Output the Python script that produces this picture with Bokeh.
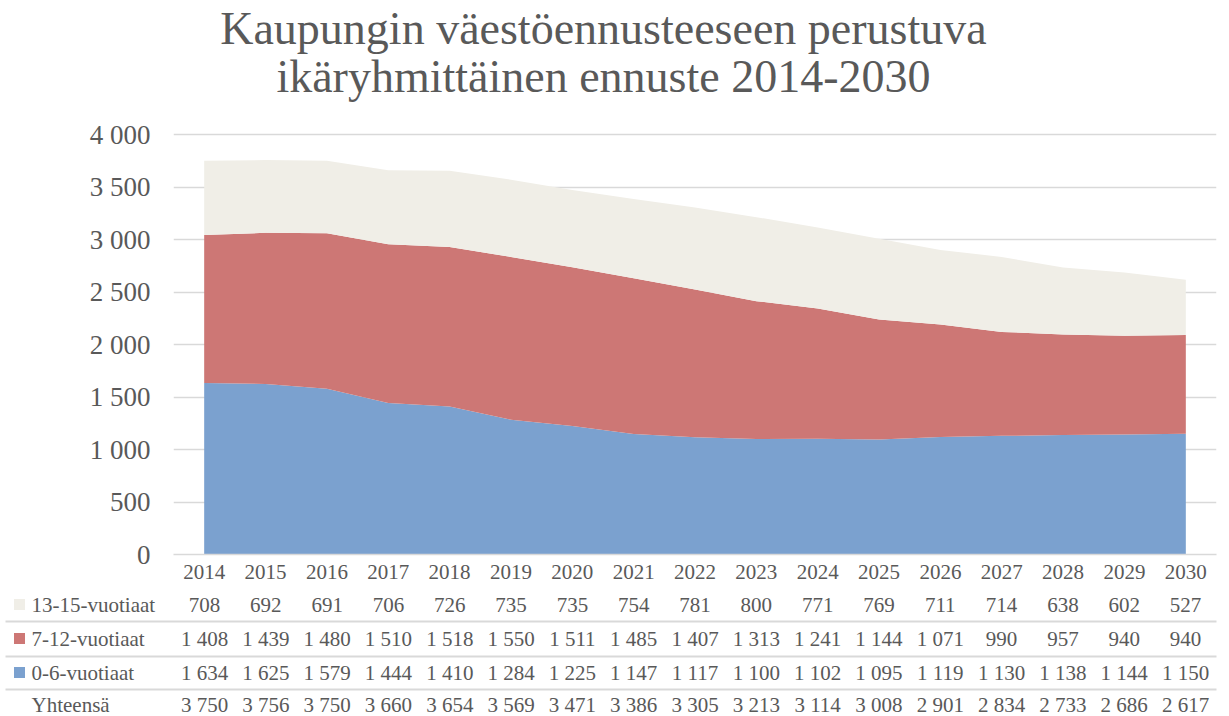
from bokeh.plotting import figure
from bokeh.layouts import column
from bokeh.models import ColumnDataSource, FixedTicker, Range1d
from bokeh.core.properties import value
from bokeh.embed import file_html
from bokeh.resources import INLINE

years = [str(y) for y in range(2014, 2031)]
age_13_15 = [708, 692, 691, 706, 726, 735, 735, 754, 781, 800, 771, 769, 711, 714, 638, 602, 527]
age_7_12 = [1408, 1439, 1480, 1510, 1518, 1550, 1511, 1485, 1407, 1313, 1241, 1144, 1071, 990, 957, 940, 940]
age_0_6 = [1634, 1625, 1579, 1444, 1410, 1284, 1225, 1147, 1117, 1100, 1102, 1095, 1119, 1130, 1138, 1144, 1150]
series_names = ["0-6-vuotiaat", "7-12-vuotiaat", "13-15-vuotiaat"]
total_label = "Yhteensä"
title_lines = ["Kaupungin väestöennusteeseen perustuva", "ikäryhmittäinen ennuste 2014-2030"]
y_ticks = [0, 500, 1000, 1500, 2000, 2500, 3000, 3500, 4000]

colors = {"0-6-vuotiaat": "#7BA1CF", "7-12-vuotiaat": "#CD7775", "13-15-vuotiaat": "#F0EEE7"}
TXT = "#595959"
GRID = "#D9D9D9"
FONT = "Liberation Serif"

n = len(years)
totals = [a + b + c for a, b, c in zip(age_0_6, age_7_12, age_13_15)]

def fmt(v):
    return f"{v:,}".replace(",", " ")

# ---------------- layout geometry (pixels) ----------------
W = 1229
cat_w = 61.3125          # pixel width of one category
first_x = 204.0          # pixel of first category centre
px_per_unit = 0.105
top_frame_h = 554
top_h = 589
bottom_h = 127

frame_left = int(round(first_x - 0.5 * cat_w))
frame_right = int(round(first_x + (n - 0.5) * cat_w))
y_end = top_frame_h / px_per_unit

p = figure(width=W, height=top_h, output_backend="svg", toolbar_location=None,
           x_range=Range1d(-0.5, n - 0.5), y_range=Range1d(0, y_end),
           min_border_left=frame_left, min_border_right=W - frame_right,
           min_border_top=0, min_border_bottom=top_h - top_frame_h, frame_align=False)
p.outline_line_color = None

src = ColumnDataSource(dict(x=list(range(n)), **{
    "0-6-vuotiaat": age_0_6, "7-12-vuotiaat": age_7_12, "13-15-vuotiaat": age_13_15}))
p.varea_stack(stackers=series_names, x="x", color=[colors[s] for s in series_names], source=src)

p.xgrid.visible = False
p.ygrid.ticker = FixedTicker(ticks=y_ticks)
p.ygrid.grid_line_color = GRID
p.ygrid.grid_line_width = 1.5
p.ygrid.level = "underlay"

p.yaxis.ticker = FixedTicker(ticks=y_ticks)
p.yaxis.major_label_overrides = {t: fmt(t) for t in y_ticks}
p.yaxis.axis_line_color = None
p.yaxis.major_tick_line_color = None
p.yaxis.minor_tick_line_color = None
p.yaxis.major_label_standoff = 17
p.yaxis.major_label_text_font = FONT
p.yaxis.major_label_text_font_size = "27px"
p.yaxis.major_label_text_color = TXT

p.xaxis.ticker = FixedTicker(ticks=list(range(n)))
p.xaxis.major_label_overrides = {i: y for i, y in enumerate(years)}
p.xaxis.axis_line_color = GRID
p.xaxis.axis_line_width = 1.5
p.xaxis.major_tick_line_color = None
p.xaxis.minor_tick_line_color = None
p.xaxis.major_label_standoff = 4
p.xaxis.major_label_text_font = FONT
p.xaxis.major_label_text_font_size = "21px"
p.xaxis.major_label_text_color = TXT

# title as text in data space of the upper frame
title_px_x = 603.0
title_cx = (title_px_x - first_x) / cat_w
title_centres = [28.0, 76.0]
p.text(x=[title_cx] * 2, y=[(top_frame_h - py) / px_per_unit for py in title_centres], text=title_lines,
       text_align="center", text_baseline="middle", text_font=value(FONT),
       text_font_size="46px", text_color=TXT)

# ---------------- table figure ----------------
bx0 = (0 - first_x) / cat_w
bx1 = (W - first_x) / cat_w
t = figure(width=W, height=bottom_h, output_backend="svg", toolbar_location=None,
           x_range=Range1d(bx0, bx1), y_range=Range1d(bottom_h, 0),
           min_border_left=0, min_border_right=0, min_border_top=0, min_border_bottom=0,
           frame_align=False)
t.outline_line_color = None
t.axis.visible = False
t.grid.visible = False

rows = [("13-15-vuotiaat", age_13_15), ("7-12-vuotiaat", age_7_12), ("0-6-vuotiaat", age_0_6), (total_label, totals)]
row_py = [15, 49, 83, 115]
sep_py = [32, 67, 100]

def px(xp):
    return (xp - first_x) / cat_w

for (name, vals), ry in zip(rows, row_py):
    t.text(x=list(range(n)), y=[ry] * n, text=[fmt(v) for v in vals], text_align="center",
           text_baseline="middle", text_font=value(FONT), text_font_size="21px", text_color=TXT)
    t.text(x=[px(31)], y=[ry], text=[name], text_align="left", text_baseline="middle",
           text_font=value(FONT), text_font_size="21px", text_color=TXT)
    if name in colors:
        t.rect(x=[px(19)], y=[ry], width=11, height=11, width_units="screen",
               height_units="screen", fill_color=colors[name], line_color=None)

t.segment(x0=[px(5)] * 3, y0=sep_py, x1=[px(1216)] * 3, y1=sep_py, line_color=GRID, line_width=2)

layout = column(p, t, spacing=0)
open("out.html", "w").write(file_html(layout, INLINE))
